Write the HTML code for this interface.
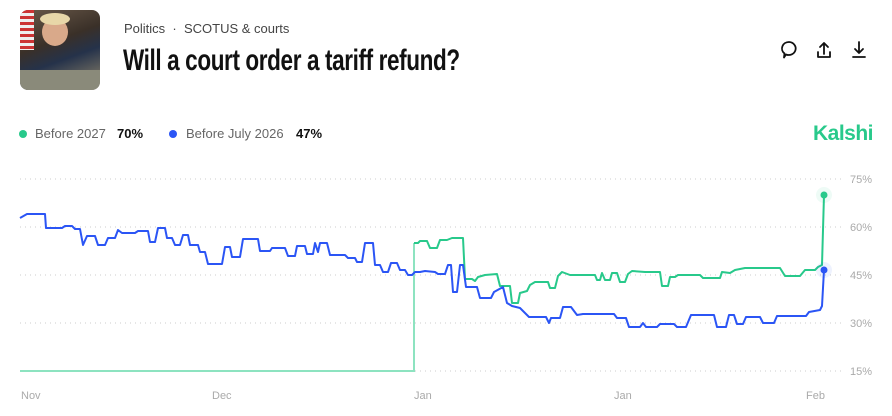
<!DOCTYPE html>
<html><head><meta charset="utf-8"><style>
body{margin:0;width:892px;height:416px;background:#fff;overflow:hidden;font-family:"Liberation Sans",sans-serif;position:relative}
.a{position:absolute;white-space:nowrap}
</style></head><body>
<div class="a" style="left:20px;top:10px;width:80px;height:80px;border-radius:8px;overflow:hidden;background:linear-gradient(160deg,#6b5a4a 0%,#3a3028 40%,#25324a 60%,#6d6a60 85%,#c9c4b6 100%)">
<div style="position:absolute;left:0;top:0;width:14px;height:40px;background:repeating-linear-gradient(#c33 0 3px,#eee 3px 6px)"></div>
<div style="position:absolute;left:22px;top:8px;width:26px;height:28px;border-radius:50%;background:#d9a98a"></div>
<div style="position:absolute;left:20px;top:3px;width:30px;height:12px;border-radius:50%;background:#e8d7a8"></div>
<div style="position:absolute;left:0;top:60px;width:80px;height:20px;background:#8a8a7a"></div>
</div>
<div class="a" style="left:124px;top:21px;font-size:13px;color:#444">Politics &nbsp;·&nbsp; SCOTUS &amp; courts</div>
<div class="a" style="left:123px;top:44px;font-weight:bold;font-size:30px;color:#111;letter-spacing:-0.5px;transform:scaleX(0.75);transform-origin:0 0">Will a court order a tariff refund?</div>
<svg class="a" style="left:775px;top:38px" width="100" height="26" viewBox="0 0 100 26" fill="none" stroke="#111" stroke-width="1.8" stroke-linecap="round" stroke-linejoin="round">
<path d="M14 4a7 6.5 0 1 1 -3 12.5l-2 3 0.5-4a7 6.5 0 0 1 4.5-11.5z"/>
<path d="M49 16V5M45 9l4-4 4 4M43 14v5h12v-5"/>
<path d="M84 4v11M80 11l4 4 4-4M78 19h12"/>
</svg>
<div class="a" style="left:19px;top:130px;width:8px;height:8px;border-radius:50%;background:#28c98b"></div>
<div class="a" style="left:35px;top:126px;font-size:13px;color:#666">Before 2027</div>
<div class="a" style="left:117px;top:126px;font-size:13px;font-weight:bold;color:#111">70%</div>
<div class="a" style="left:169px;top:130px;width:8px;height:8px;border-radius:50%;background:#2b55f5"></div>
<div class="a" style="left:186px;top:126px;font-size:13px;color:#666">Before July 2026</div>
<div class="a" style="left:296px;top:126px;font-size:13px;font-weight:bold;color:#111">47%</div>
<div class="a" style="left:813px;top:122px;font-size:21px;font-weight:bold;color:#28c98b;letter-spacing:-0.5px">Kalshi</div>
<svg class="a" style="left:0;top:0" width="892" height="416">
<g stroke="#ccc" stroke-width="1" stroke-dasharray="1 4">
<line x1="20" y1="179" x2="842" y2="179"/><line x1="20" y1="227" x2="842" y2="227"/><line x1="20" y1="275" x2="842" y2="275"/><line x1="20" y1="323" x2="842" y2="323"/><line x1="20" y1="371" x2="842" y2="371"/>
</g>
<g font-size="11" fill="#aaa" font-family="Liberation Sans,sans-serif">
<text x="850" y="183">75%</text><text x="850" y="231">60%</text><text x="850" y="279">45%</text><text x="850" y="327">30%</text><text x="850" y="375">15%</text>
<text x="21" y="399">Nov</text><text x="212" y="399">Dec</text><text x="414" y="399">Jan</text><text x="614" y="399">Jan</text><text x="806" y="399">Feb</text>
</g>
<polyline fill="none" stroke="#8de3c0" stroke-width="2" points="20,371 414,371 414,243"/>
<polyline fill="none" stroke="#28c98b" stroke-width="2" stroke-linejoin="round" points="414,243 418,243 420,241 427,241 430,248 437,248 440,240 447,240 452,238 463,238 465,279 472,279 475,281 478,277 485,275 497,274 500,286 510,286 512,303 518,303 520,293 527,291 530,285 535,282 548,282 550,288 555,288 558,276 562,272 570,275 595,275 597,280 600,280 602,273 605,280 610,280 612,273 617,273 620,282 625,282 628,274 632,271 645,272 660,272 662,286 668,286 670,277 675,277 678,275 700,275 703,278 720,278 722,272 730,273 735,270 745,268 780,268 785,276 800,276 805,270 815,270 818,267 822,265 824,195"/>
<polyline fill="none" stroke="#2b55f5" stroke-width="2" stroke-linejoin="round" points="20,218 27,214 45,214 46,228 62,228 65,226 72,226 75,229 80,229 83,245 87,236 95,236 98,245 105,245 108,238 115,238 118,230 122,233 135,233 138,231 148,231 150,242 155,242 158,228 165,228 167,238 172,238 175,245 180,245 183,235 188,235 190,245 198,245 200,252 205,252 208,264 222,264 225,247 230,247 232,257 240,257 243,239 258,239 260,251 270,251 272,248 285,248 288,256 295,256 297,246 305,246 307,254 313,254 315,243 318,252 320,243 327,243 330,255 345,255 348,258 355,258 357,262 362,262 365,243 373,243 375,265 380,265 383,272 388,272 391,263 397,263 400,270 405,270 408,275 412,275 415,272 420,272 425,271 435,272 438,274 445,274 448,265 451,265 453,292 457,292 460,265 463,265 466,287 477,287 480,298 491,298 494,292 503,287 507,303 512,306 520,308 529,317 546,317 549,323 551,318 560,318 563,307 571,307 577,315 583,314 614,314 617,318 626,318 629,327 640,327 643,323 646,327 657,327 660,324 674,324 677,327 686,327 691,315 714,315 717,327 726,327 729,315 734,315 737,324 743,324 746,317 760,317 763,323 774,323 777,316 806,316 809,312 820,310 822,306 824,270"/>
<circle cx="824" cy="195" r="8" fill="#28c98b" opacity="0.08"/><circle cx="824" cy="195" r="3.5" fill="#28c98b"/>
<circle cx="824" cy="270" r="8" fill="#2b55f5" opacity="0.08"/><circle cx="824" cy="270" r="3.5" fill="#2b55f5"/>
</svg>
</body></html>
